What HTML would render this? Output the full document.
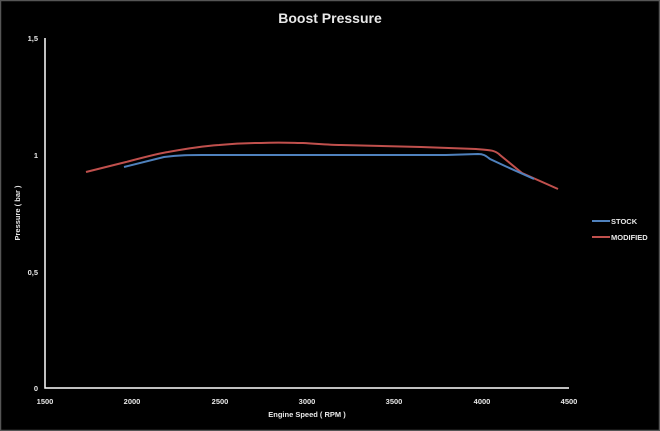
<!DOCTYPE html>
<html><head><style>
html,body{margin:0;padding:0;background:#000;}
svg{display:block;}
text{font-family:"Liberation Sans",sans-serif;fill:#e8e8e8;font-weight:bold;}
</style></head><body>
<svg width="660" height="431" viewBox="0 0 660 431">
<rect x="0.5" y="0.5" width="659" height="430" fill="#000" stroke="#555" stroke-width="1.5"/>
<text x="330" y="23" text-anchor="middle" font-size="14" fill="#fff">Boost Pressure</text>
<polyline points="45,38 45,388 569,388" fill="none" stroke="#fff" stroke-width="1.5"/>
<g font-size="7.5" text-anchor="end">
<text x="38" y="41">1,5</text>
<text x="38" y="158">1</text>
<text x="38" y="275">0,5</text>
<text x="38" y="391">0</text>
</g>
<g font-size="7.5" text-anchor="middle">
<text x="45" y="404">1500</text>
<text x="132" y="404">2000</text>
<text x="220" y="404">2500</text>
<text x="307" y="404">3000</text>
<text x="394" y="404">3500</text>
<text x="482" y="404">4000</text>
<text x="569" y="404">4500</text>
</g>
<text x="307" y="417" font-size="7.5" text-anchor="middle">Engine Speed ( RPM )</text>
<text transform="translate(20,213) rotate(-90)" font-size="7.5" text-anchor="middle">Pressure ( bar )</text>
<path d="M86,172 L126,162 C145,157 160,153 168,152 C190,148 205,146 219,145 C240,143 250,143 261,143 C280,142 295,143 303,143 C320,144 330,145 341,145 L421,147 L476,149 C490,150 495,150 500,155 L522,173 L558,189" fill="none" stroke="#c0504d" stroke-width="2"/>
<path d="M124,167 L164,157 C180,155 190,155 202,155 L446,155 L478,154 C484,154 486,156 490,159 L505,166 L534,179" fill="none" stroke="#4f81bd" stroke-width="2"/>
<line x1="592" y1="221" x2="610" y2="221" stroke="#4f81bd" stroke-width="2"/>
<line x1="592" y1="237" x2="610" y2="237" stroke="#c0504d" stroke-width="2"/>
<text x="611" y="224" font-size="7.5">STOCK</text>
<text x="611" y="240" font-size="7.5">MODIFIED</text>
</svg>
</body></html>
